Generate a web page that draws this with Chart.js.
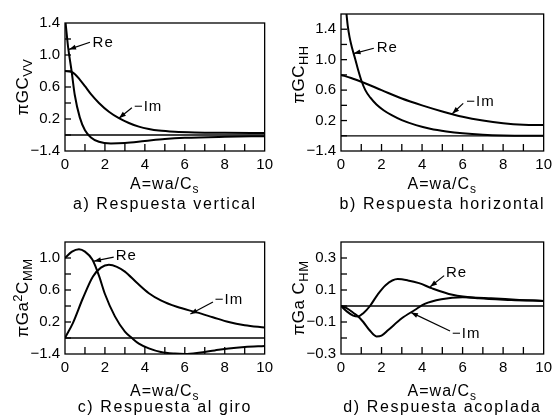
<!DOCTYPE html>
<html>
<head>
<meta charset="utf-8">
<script src="https://cdn.jsdelivr.net/npm/chart.js@4"></script>
<style>
  body { margin: 0; background: #fff; }
  #wrap { position: relative; width: 557px; height: 418px; overflow: hidden; }
  .p { position: absolute; height: 218px; }
</style>
</head>
<body>
<div id="wrap">
  <div class="p" style="left:0;top:0;width:278px"><canvas id="chart-a"></canvas></div>
  <div class="p" style="left:278px;top:0;width:279px"><canvas id="chart-b"></canvas></div>
  <div class="p" style="left:0;top:200px;width:278px"><canvas id="chart-c"></canvas></div>
  <div class="p" style="left:278px;top:200px;width:279px"><canvas id="chart-d"></canvas></div>
</div>
<script>
const FONT = '"Liberation Sans", Arial, sans-serif';
const xTickValues = [0, 2, 4, 6, 8, 10];
const seriesNames = ['Re', '−Im'];

// a) Respuesta vertical
const vertReX = [0.03, 0.16, 0.33, 0.49, 0.74, 1.0, 1.3, 1.7, 2.3, 3.0, 4, 5, 6, 8, 10];
const vertRe  = [1.4, 1.09, 0.8, 0.5, 0.22, 0.06, -0.03, -0.085, -0.105, -0.1, -0.075, -0.05, -0.035, -0.022, -0.015];
const vertImX = [0, 0.3, 0.5, 0.75, 1.0, 1.3, 1.7, 2.2, 2.7, 3.2, 3.7, 4.2, 4.7, 5.5, 6.5, 8, 10];
const vertIm  = [0.8, 0.79, 0.76, 0.69, 0.61, 0.51, 0.4, 0.29, 0.21, 0.15, 0.105, 0.075, 0.055, 0.04, 0.032, 0.028, 0.026];
const vertYTicks  = [-0.2, 0.2, 0.6, 1.0, 1.4];
const vertYLabels = ['−1.4', '0.2', '0.6', '1.0', '1.4'];

// b) Respuesta horizontal
const horReX = [0.27, 0.33, 0.42, 0.55, 0.7, 0.85, 1.0, 1.2, 1.45, 1.75, 2.1, 2.5, 3.0, 3.7, 4.4, 5.2, 6.0, 7.0, 8.0, 10];
const horRe  = [1.6, 1.45, 1.3, 1.15, 1.01, 0.86, 0.73, 0.6, 0.5, 0.41, 0.335, 0.27, 0.205, 0.14, 0.093, 0.057, 0.032, 0.013, 0.004, 0.0];
const horImX = [0, 0.5, 1, 2, 3, 4, 5, 6, 7, 8, 9, 10];
const horIm  = [0.8, 0.76, 0.71, 0.6, 0.49, 0.4, 0.32, 0.25, 0.2, 0.165, 0.145, 0.14];
const horYTicks  = [-0.2, 0.2, 0.6, 1.0, 1.4];
const horYLabels = ['−1.4', '0.2', '0.6', '1.0', '1.4'];

// c) Respuesta al giro
const rotReX = [0, 0.35, 0.7, 1.0, 1.37, 1.7, 2.0, 2.5, 3.0, 3.35, 3.7, 4.2, 4.8, 5.5, 6.0, 6.7, 7.5, 8.2, 9, 10];
const rotRe  = [1.0, 1.08, 1.11, 1.08, 0.98, 0.78, 0.55, 0.27, 0.08, 0.0, -0.07, -0.13, -0.175, -0.195, -0.2, -0.185, -0.155, -0.13, -0.112, -0.1];
const rotImX = [0, 0.4, 0.9, 1.4, 1.8, 2.2, 2.6, 3.0, 3.6, 4.2, 4.8, 5.6, 6.6, 7.4, 8.2, 9.0, 10];
const rotIm  = [0, 0.19, 0.5, 0.77, 0.88, 0.915, 0.89, 0.83, 0.69, 0.56, 0.47, 0.39, 0.32, 0.26, 0.2, 0.16, 0.13];
const rotYTicks  = [-0.2, 0.2, 0.6, 1.0];
const rotYLabels = ['−1.4', '0.2', '0.6', '1.0'];

// d) Respuesta acoplada
const coupReX = [0, 0.3, 0.6, 0.85, 1.1, 1.43, 1.8, 2.2, 2.8, 3.3, 3.85, 4.5, 5.5, 6.8, 8.4, 10];
const coupRe  = [0, -0.035, -0.06, -0.065, -0.045, 0, 0.07, 0.13, 0.168, 0.16, 0.143, 0.11, 0.07, 0.048, 0.038, 0.032];
const coupImX = [0, 0.3, 0.6, 0.85, 1.1, 1.4, 1.75, 2.0, 2.33, 3.0, 3.64, 4.13, 4.95, 6.0, 7.4, 8.8, 10];
const coupIm  = [0, -0.015, -0.042, -0.065, -0.1, -0.15, -0.19, -0.185, -0.15, -0.077, -0.025, 0.013, 0.042, 0.055, 0.048, 0.038, 0.032];
const coupYTicks  = [-0.3, -0.1, 0.1, 0.3];
const coupYLabels = ['−0.3', '−0.1', '0.1', '0.3'];

// draws frame, inner ticks, zero line, labels with arrows and the axis titles
const panelDeco = {
  id: 'panelDeco',
  afterDatasetsDraw(chart, args, o) {
    const { ctx, chartArea: a, scales: { x, y } } = chart;
    const seg = (x1, y1, x2, y2) => { ctx.beginPath(); ctx.moveTo(x1, y1); ctx.lineTo(x2, y2); ctx.stroke(); };
    ctx.save();
    ctx.strokeStyle = '#000';
    ctx.fillStyle = '#000';
    ctx.lineWidth = 1.3;

    const y0 = y.getPixelForValue(0);
    seg(a.left, y0, a.right, y0);

    for (let i = 1; i < 10; i++) {
      const px = x.getPixelForValue(i);
      seg(px, a.bottom, px, a.bottom - 7);
    }
    const n = Math.round((y.max - y.min) / o.yMinor);
    for (let i = 1; i < n; i++) {
      const py = y.getPixelForValue(y.min + i * o.yMinor);
      seg(a.left, py, a.left + 6, py);
    }
    ctx.strokeRect(a.left, a.top, a.width, a.height);

    // series labels
    ctx.font = '15px ' + FONT;
    ctx.textBaseline = 'middle';
    ctx.textAlign = 'left';
    ctx.letterSpacing = '1px';
    o.notes.forEach(nt => {
      ctx.fillText(nt.text, x.getPixelForValue(nt.at[0]), y.getPixelForValue(nt.at[1]));
      const x1 = x.getPixelForValue(nt.from[0]), y1 = y.getPixelForValue(nt.from[1]);
      const x2 = x.getPixelForValue(nt.to[0]), y2 = y.getPixelForValue(nt.to[1]);
      ctx.lineWidth = 1.2;
      seg(x1, y1, x2, y2);
      const ang = Math.atan2(y2 - y1, x2 - x1);
      ctx.beginPath();
      ctx.moveTo(x2, y2);
      ctx.lineTo(x2 - 7 * Math.cos(ang) + 2.5 * Math.sin(ang), y2 - 7 * Math.sin(ang) - 2.5 * Math.cos(ang));
      ctx.lineTo(x2 - 7 * Math.cos(ang) - 2.5 * Math.sin(ang), y2 - 7 * Math.sin(ang) + 2.5 * Math.cos(ang));
      ctx.closePath();
      ctx.fill();
    });

    // text made of runs: [text, shift] with shift -1 = subscript, 1 = superscript
    const runs = (parts, size) => parts.map(([t, s]) => {
      ctx.font = (s ? size - 4 : size) + 'px ' + FONT;
      return { t, s, w: ctx.measureText(t).width, f: ctx.font };
    });
    const drawRuns = (rs, cx, base) => {
      const total = rs.reduce((acc, r) => acc + r.w, 0);
      let cur = cx - total / 2;
      rs.forEach(r => {
        ctx.font = r.f;
        ctx.fillText(r.t, cur, base + (r.s < 0 ? 4 : r.s > 0 ? -6 : 0));
        cur += r.w;
      });
    };
    ctx.textBaseline = 'alphabetic';
    const cx = (a.left + a.right) / 2;

    ctx.letterSpacing = '1px';
    drawRuns(runs([['A=wa/C', 0], ['s', -1]], 16), cx, a.bottom + o.xTitleGap);
    ctx.letterSpacing = '1.6px';
    drawRuns(runs([[o.caption, 0]], 16), cx, a.bottom + 58);

    ctx.letterSpacing = '0.5px';
    ctx.translate(a.left - 37, (a.top + a.bottom) / 2 + o.yTitleShift);
    ctx.rotate(-Math.PI / 2);
    drawRuns(runs(o.yTitle, 17), 0, 0);
    ctx.restore();
  }
};

function pts(xs, ys) {
  return xs.map((v, i) => ({ x: v, y: ys[i] }));
}

function makePanel(id, p) {
  const curve = data => ({
    data, borderColor: '#000', borderWidth: 2, pointRadius: 0,
    cubicInterpolationMode: 'monotone', fill: false
  });
  return new Chart(document.getElementById(id), {
    type: 'line',
    data: {
      datasets: [
        { label: seriesNames[0], ...curve(pts(p.reX, p.re)) },
        { label: seriesNames[1], ...curve(pts(p.imX, p.im)) }
      ]
    },
    options: {
      responsive: true,
      maintainAspectRatio: false,
      animation: false,
      events: [],
      layout: { padding: p.pad },
      plugins: {
        legend: { display: false },
        tooltip: { enabled: false },
        panelDeco: p.deco
      },
      scales: {
        x: {
          type: 'linear', min: 0, max: 10,
          afterBuildTicks: s => { s.ticks = xTickValues.map(v => ({ value: v })); },
          afterFit: s => { s.height = 22; },
          grid: { display: false, drawTicks: false },
          border: { display: false },
          ticks: { color: '#000', padding: 5, maxRotation: 0, font: { family: FONT, size: 15 } }
        },
        y: {
          type: 'linear', min: p.yMin, max: p.yMax,
          afterBuildTicks: s => { s.ticks = p.yTicks.map(v => ({ value: v })); },
          afterFit: s => { s.width = 40; },
          grid: { display: false, drawTicks: false },
          border: { display: false },
          ticks: {
            color: '#000', padding: 5, font: { family: FONT, size: 15 },
            callback: v => p.yLabels[p.yTicks.findIndex(t => Math.abs(t - v) < 1e-6)]
          }
        }
      }
    },
    plugins: [panelDeco]
  });
}

makePanel('chart-a', {
  reX: vertReX, re: vertRe, imX: vertImX, im: vertIm,
  yMin: -0.2, yMax: 1.4, yTicks: vertYTicks, yLabels: vertYLabels,
  pad: { left: 25, top: 23, right: 10, bottom: 45 },
  deco: {
    yMinor: 0.2, xTitleGap: 38, yTitleShift: 0, caption: 'a) Respuesta vertical',
    yTitle: [['πGC', 0], ['VV', -1]],
    notes: [
      { text: seriesNames[0], at: [1.38, 1.15], from: [1.25, 1.16], to: [0.2, 1.07] },
      { text: seriesNames[1], at: [3.45, 0.35], from: [3.35, 0.34], to: [2.7, 0.21] }
    ]
  }
});

makePanel('chart-b', {
  reX: horReX, re: horRe, imX: horImX, im: horIm,
  yMin: -0.2, yMax: 1.6, yTicks: horYTicks, yLabels: horYLabels,
  pad: { left: 23, top: 7, right: 12, bottom: 45 },
  deco: {
    yMinor: 0.2, xTitleGap: 38, yTitleShift: -8, caption: 'b) Respuesta horizontal',
    yTitle: [['πGC', 0], ['HH', -1]],
    notes: [
      { text: seriesNames[0], at: [1.76, 1.16], from: [1.62, 1.15], to: [0.62, 1.08] },
      { text: seriesNames[1], at: [6.18, 0.45], from: [6.03, 0.425], to: [5.49, 0.29] }
    ]
  }
});

makePanel('chart-c', {
  reX: rotReX, re: rotRe, imX: rotImX, im: rotIm,
  yMin: -0.2, yMax: 1.2, yTicks: rotYTicks, yLabels: rotYLabels,
  pad: { left: 25, top: 42, right: 10, bottom: 42 },
  deco: {
    yMinor: 0.2, xTitleGap: 42, yTitleShift: 0, caption: 'c) Respuesta al giro',
    yTitle: [['πGa', 0], ['2', 1], ['C', 0], ['MM', -1]],
    notes: [
      { text: seriesNames[0], at: [2.54, 1.03], from: [2.44, 1.01], to: [1.45, 0.96] },
      { text: seriesNames[1], at: [7.5, 0.475], from: [7.41, 0.45], to: [6.28, 0.3] }
    ]
  }
});

makePanel('chart-d', {
  reX: coupReX, re: coupRe, imX: coupImX, im: coupIm,
  yMin: -0.3, yMax: 0.4, yTicks: coupYTicks, yLabels: coupYLabels,
  pad: { left: 23, top: 42, right: 12, bottom: 42 },
  deco: {
    yMinor: 0.1, xTitleGap: 42, yTitleShift: 0, caption: 'd) Respuesta acoplada',
    yTitle: [['πGa C', 0], ['HM', -1]],
    notes: [
      { text: seriesNames[0], at: [5.18, 0.206], from: [5.09, 0.19], to: [4.4, 0.12] },
      { text: seriesNames[1], at: [5.48, -0.175], from: [5.38, -0.156], to: [3.45, -0.04] }
    ]
  }
});
</script>
</body>
</html>
